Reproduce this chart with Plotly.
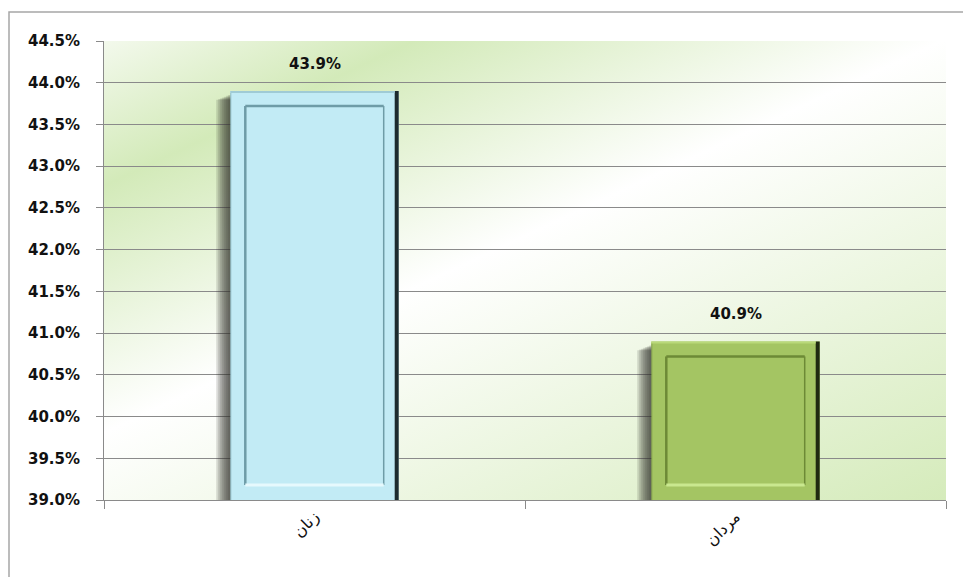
import base64
import plotly.graph_objects as go

# ---- data ----
categories = ["زنان", "مردان"]
values = [43.9, 40.9]
bar_colors = ["#c2ebf5", "#a4c563"]
edge_dark = ["#1d2b2e", "#1f2a10"]
bevel_dark = ["#6e9ca7", "#6d8a36"]
bevel_light = ["#e6f9fd", "#c9e88f"]
top_edge = ["#9fcbd5", "#b9d97a"]

Y_MIN, Y_MAX, Y_STEP = 39.0, 44.5, 0.5

# ---- geometry ----
W, H = 963, 577
ML, MR, MT, MB = 104, 17, 41, 77
PW, PH = W - ML - MR, H - MT - MB
BAR_W = 0.4
px_per_unit = PH / (Y_MAX - Y_MIN)
px_per_cat = PW / len(categories)
half = BAR_W * px_per_cat / 2
INSET = 15

FONT = "DejaVu Sans"
GRID = "#8a8a8a"

fig = go.Figure()
fig.add_trace(go.Bar(
    x=categories, y=values,
    width=BAR_W, marker=dict(color=bar_colors, line=dict(width=0)),
    hoverinfo="skip",
))


def px_rect(i, x0, x1, y0, y1, color, layer="above", opacity=1.0):
    return dict(type="rect", xref="x", yref="y",
                xsizemode="pixel", ysizemode="pixel",
                xanchor=i, yanchor=Y_MIN,
                x0=x0, x1=x1, y0=y0, y1=y1,
                fillcolor=color, line=dict(width=0),
                layer=layer, opacity=opacity)


def px_line(i, x0, x1, y0, y1, color, width=2):
    return dict(type="line", xref="x", yref="y",
                xsizemode="pixel", ysizemode="pixel",
                xanchor=i, yanchor=Y_MIN,
                x0=x0, x1=x1, y0=y0, y1=y1,
                line=dict(color=color, width=width), layer="above")


shapes = []
for i, v in enumerate(values):
    h = (v - Y_MIN) * px_per_unit
    # soft shadow on the left side of the bar (nested strips, darkest at the bar)
    n = 7
    for k in range(n):
        shapes.append(px_rect(i, -half - (k + 1) * 2, -half,
                              0, h - 4 - k * 0.8, "rgba(45,50,40,0.17)"))
    # dark right edge and top rim
    shapes.append(px_rect(i, half - 4, half, 0, h, edge_dark[i]))
    shapes.append(px_rect(i, -half, half - 4, h - 2, h, top_edge[i]))
    shapes.append(px_rect(i, -half, -half + 1, 0, h - 2, bevel_dark[i], opacity=0.6))
    # inner bevelled panel
    l, r = -half + INSET, half - INSET
    b, t = INSET, h - INSET
    shapes.append(px_line(i, l, l, b, t, bevel_dark[i], width=2.5))
    shapes.append(px_line(i, l, r, t, t, bevel_dark[i], width=2.5))
    shapes.append(px_line(i, r, r, b, t, bevel_dark[i], width=1.5))
    shapes.append(px_line(i, l, r, b, b, bevel_light[i], width=3))

# chart frame (left and top edges)
fx = (9 - ML) / PW
fy = 1 + (MT - 12) / PH
shapes.append(dict(type="path", xref="paper", yref="paper",
                   path=f"M {fx} -1 L {fx} {fy} L 2 {fy}",
                   line=dict(color="#a6a6a6", width=1.5), layer="above"))

# diagonal green / white gradient behind the plot area
svg = f"""<svg xmlns='http://www.w3.org/2000/svg' width='{PW}' height='{PH}'>
<defs><linearGradient id='g' gradientUnits='userSpaceOnUse' x1='0' y1='0' x2='327' y2='699'>
<stop offset='0' stop-color='#f3f9ec'/>
<stop offset='0.17' stop-color='#d3eab9'/>
<stop offset='0.46' stop-color='#ffffff'/>
<stop offset='1' stop-color='#d5ebbb'/>
</linearGradient></defs>
<rect width='{PW}' height='{PH}' fill='url(#g)'/></svg>"""
bg_src = "data:image/svg+xml;base64," + base64.b64encode(svg.encode()).decode()

annotations = []
for i, v in enumerate(values):
    annotations.append(dict(
        x=i, y=v, xref="x", yref="y", text=f"{v:.1f}%", showarrow=False,
        yanchor="middle", yshift=27,
        font=dict(family=FONT, size=15, color="#111111", weight="bold"),
    ))

tickvals = [Y_MIN + k * Y_STEP for k in range(int(round((Y_MAX - Y_MIN) / Y_STEP)) + 1)]

fig.update_layout(
    width=W, height=H,
    margin=dict(l=ML, r=MR, t=MT, b=MB, pad=0),
    paper_bgcolor="white", plot_bgcolor="rgba(0,0,0,0)",
    showlegend=False, bargap=1 - BAR_W,
    shapes=shapes, annotations=annotations,
    images=[dict(source=bg_src, xref="paper", yref="paper", x=0, y=1,
                 sizex=1, sizey=1, sizing="stretch", layer="below",
                 xanchor="left", yanchor="top")],
    xaxis=dict(
        type="category", range=[-0.5, len(categories) - 0.5],
        tickson="boundaries", ticks="outside", ticklen=8, tickcolor=GRID,
        showline=True, linecolor=GRID, linewidth=1, showgrid=False, zeroline=False,
        tickangle=-45, tickfont=dict(family=FONT, size=16, color="#111111"),
        fixedrange=True,
    ),
    yaxis=dict(
        range=[Y_MIN, Y_MAX], tickmode="array", tickvals=tickvals,
        ticktext=[f"{t:.1f}%" for t in tickvals],
        ticks="outside", ticklen=7, tickcolor=GRID,
        showline=True, linecolor=GRID, linewidth=1,
        showgrid=True, gridcolor=GRID, gridwidth=1, zeroline=False,
        tickfont=dict(family=FONT, size=15, color="#111111", weight="bold"),
        ticklabelstandoff=13, fixedrange=True,
    ),
)

fig.write_html("out.html", config={"displayModeBar": False})
